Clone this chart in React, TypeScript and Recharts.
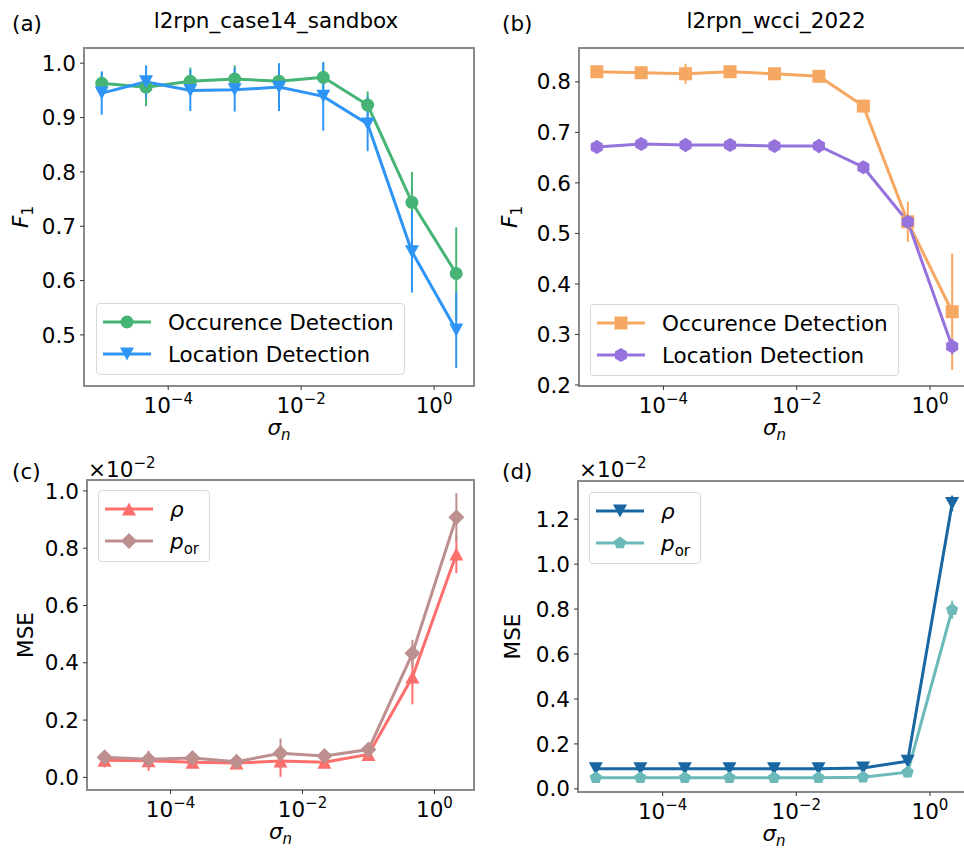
import type { ReactNode } from "react";
import {
	ErrorBar,
	Legend,
	Line,
	LineChart,
	ReferenceArea,
	XAxis,
	YAxis,
} from "recharts";

const FONT = '"DejaVu Sans", sans-serif';
const FS = 21.5;

// noise levels sigma_n (log-spaced) and the x ticks
const sigmaLevels = [1e-5, 4.64e-5, 2.15e-4, 1e-3, 4.64e-3, 2.15e-2, 0.1, 0.464, 2.15];
const sigmaTicks = [1e-4, 1e-2, 1];
const sigmaDomain = [5.41e-6, 3.98];

// (a) l2rpn_case14_sandbox, F1 scores
const case14Occurrence = [0.963, 0.956, 0.967, 0.971, 0.967, 0.974, 0.923, 0.744, 0.613];
const case14OccurrenceErr = [0.02, 0.035, 0.025, 0.025, 0.025, 0.027, 0.025, 0.056, 0.085];
const case14Location = [0.945, 0.966, 0.95, 0.951, 0.956, 0.939, 0.888, 0.653, 0.509];
const case14LocationErr = [0.04, 0.03, 0.038, 0.04, 0.044, 0.063, 0.05, 0.075, 0.07];
const f1TicksCase14 = [0.5, 0.6, 0.7, 0.8, 0.9, 1.0];

// (b) l2rpn_wcci_2022, F1 scores
const wcciOccurrence = [0.82, 0.818, 0.816, 0.82, 0.816, 0.811, 0.752, 0.523, 0.345];
const wcciOccurrenceErr = [0.01, 0.008, 0.02, 0.008, 0.008, 0.01, 0.012, 0.04, 0.115];
const wcciLocation = [0.671, 0.677, 0.675, 0.675, 0.673, 0.673, 0.631, 0.523, 0.276];
const wcciLocationErr = [0.013, 0.008, 0.014, 0.008, 0.008, 0.014, 0.008, 0.012, 0.015];
const f1TicksWcci = [0.2, 0.3, 0.4, 0.5, 0.6, 0.7, 0.8];

// (c) case14 MSE, in units of 1e-2
const case14Rho = [0.06, 0.058, 0.053, 0.05, 0.057, 0.053, 0.08, 0.35, 0.78];
const case14RhoErr = [0.025, 0.035, 0.02, 0.01, 0.055, 0.02, 0.01, 0.095, 0.067];
const case14Por = [0.07, 0.063, 0.068, 0.055, 0.084, 0.075, 0.097, 0.433, 0.908];
const case14PorErr = [0.015, 0.02, 0.01, 0.01, 0.052, 0.01, 0.01, 0.047, 0.084];
const mseTicksCase14 = [0, 0.2, 0.4, 0.6, 0.8, 1.0];

// (d) wcci MSE, in units of 1e-2
const wcciRho = [0.09, 0.09, 0.09, 0.09, 0.09, 0.09, 0.093, 0.123, 1.27];
const wcciRhoErr = [0.005, 0.005, 0.005, 0.005, 0.005, 0.005, 0.006, 0.01, 0.035];
const wcciPor = [0.049, 0.049, 0.049, 0.049, 0.049, 0.049, 0.052, 0.074, 0.797];
const wcciPorErr = [0.004, 0.004, 0.004, 0.004, 0.004, 0.004, 0.004, 0.006, 0.04];
const mseTicksWcci = [0, 0.2, 0.4, 0.6, 0.8, 1.0, 1.2];

type Shape =
	| "circle"
	| "triangleDown"
	| "triangleUp"
	| "square"
	| "hexagon"
	| "diamond"
	| "pentagon";

interface Series {
	key: string;
	label: string;
	color: string;
	shape: Shape;
	values: number[];
	errors: number[];
}

const polygon = (cx: number, cy: number, r: number, n: number) =>
	Array.from({ length: n }, (_, k) => {
		const a = -Math.PI / 2 + (2 * Math.PI * k) / n;
		return `${cx + r * Math.cos(a)},${cy + r * Math.sin(a)}`;
	}).join(" ");

function Marker({ shape, cx, cy, color }: { shape: Shape; cx?: number; cy?: number; color: string }) {
	if (cx == null || cy == null) return null;
	switch (shape) {
		case "circle":
			return <circle cx={cx} cy={cy} r={6.5} fill={color} />;
		case "triangleDown":
			return <polygon points={`${cx - 7},${cy - 6.5} ${cx + 7},${cy - 6.5} ${cx},${cy + 6.5}`} fill={color} />;
		case "triangleUp":
			return <polygon points={`${cx - 7},${cy + 6.5} ${cx + 7},${cy + 6.5} ${cx},${cy - 6.5}`} fill={color} />;
		case "square":
			return <rect x={cx - 6.5} y={cy - 6.5} width={13} height={13} fill={color} />;
		case "hexagon":
			return <polygon points={polygon(cx, cy, 7, 6)} fill={color} />;
		case "diamond":
			return <polygon points={polygon(cx, cy, 8, 4)} fill={color} />;
		case "pentagon":
			return <polygon points={polygon(cx, cy, 6.5, 5)} fill={color} />;
	}
}

const mathLabel = (label: string): ReactNode => {
	if (label === "rho") return <i>ρ</i>;
	if (label === "p_or")
		return (
			<>
				<i>p</i>
				<span style={{ fontSize: 15, position: "relative", top: 5 }}>or</span>
			</>
		);
	return label;
};

// 10^k tick labels for the log axis
const PowerTick = (props: any) => {
	const { x, y, payload } = props;
	const exp = Math.round(Math.log10(payload.value));
	return (
		<text x={x} y={y} dy={15} textAnchor="middle" fontFamily={FONT} fontSize={FS} fill="#000">
			<tspan>10</tspan>
			<tspan dy={-9} fontSize={15}>
				{exp < 0 ? `−${-exp}` : `${exp}`}
			</tspan>
		</text>
	);
};

const SigmaTitle = (props: any) => {
	const { x, y, width } = props.viewBox;
	return (
		<text x={x + width / 2} y={y + 49} textAnchor="middle" fontFamily={FONT} fontSize={FS} fill="#000">
			<tspan fontStyle="italic">σ</tspan>
			<tspan fontStyle="italic" fontSize={15} dy={5}>
				n
			</tspan>
		</text>
	);
};

const YTitle = (props: any) => {
	const { y, height } = props.viewBox;
	const bx = props.baselineX;
	const cy = y + height / 2;
	return (
		<text
			x={bx}
			y={cy}
			transform={`rotate(-90 ${bx} ${cy})`}
			textAnchor="middle"
			fontFamily={FONT}
			fontSize={FS}
			fill="#000"
		>
			{props.kind === "f1" ? (
				<>
					<tspan fontStyle="italic">F</tspan>
					<tspan fontSize={15} dy={5}>
						1
					</tspan>
				</>
			) : (
				"MSE"
			)}
		</text>
	);
};

function LegendBox({ series }: { series: Series[] }) {
	return (
		<div
			style={{
				border: "1px solid #d9d9d9",
				borderRadius: 4,
				background: "rgba(255,255,255,0.8)",
				padding: "2px 10px 4px 6px",
				fontFamily: FONT,
				fontSize: FS,
				color: "#000",
			}}
		>
			{series.map((s) => (
				<div key={s.key} style={{ display: "flex", alignItems: "center", height: 32 }}>
					<svg width={48} height={32}>
						<line x1={0} x2={48} y1={16} y2={16} stroke={s.color} strokeWidth={3} />
						<Marker shape={s.shape} cx={24} cy={16} color={s.color} />
					</svg>
					<span style={{ marginLeft: 17, whiteSpace: "nowrap" }}>{mathLabel(s.label)}</span>
				</div>
			))}
		</div>
	);
}

interface PanelProps {
	left: number;
	top: number;
	width: number;
	height: number;
	plotLeft: number;
	plotTop: number;
	plotRight: number;
	plotBottom: number;
	yDomain: number[];
	yTicks: number[];
	yKind: "f1" | "mse";
	yTitleX: number;
	legendAt: [number, number];
	series: Series[];
}

function Panel(p: PanelProps) {
	const rows = sigmaLevels.map((sigma, i) => {
		const row: Record<string, number> = { sigma };
		for (const s of p.series) {
			row[s.key] = s.values[i];
			row[`${s.key}Err`] = s.errors[i];
		}
		return row;
	});

	return (
		<div style={{ position: "absolute", left: p.left, top: p.top }}>
			<LineChart
				width={p.width}
				height={p.height}
				data={rows}
				margin={{ top: p.plotTop, right: p.width - p.plotRight, bottom: 0, left: 0 }}
			>
				<XAxis
					dataKey="sigma"
					type="number"
					scale="log"
					domain={sigmaDomain}
					allowDataOverflow
					ticks={sigmaTicks}
					interval={0}
					tick={<PowerTick />}
					tickSize={4}
					tickMargin={8}
					tickLine={{ stroke: "#333" }}
					axisLine={false}
					height={p.height - p.plotBottom}
					label={<SigmaTitle />}
				/>
				<YAxis
					type="number"
					domain={p.yDomain}
					allowDataOverflow
					ticks={p.yTicks}
					interval={0}
					tickFormatter={(v: number) => v.toFixed(1)}
					tick={{ fill: "#000", fontSize: FS, fontFamily: FONT }}
					tickSize={4}
					tickMargin={4}
					tickLine={{ stroke: "#333" }}
					axisLine={false}
					width={p.plotLeft}
					label={<YTitle kind={p.yKind} baselineX={p.yTitleX} />}
				/>
				{p.series.map((s) => (
					<Line
						key={s.key}
						dataKey={s.key}
						type="linear"
						stroke={s.color}
						strokeWidth={3}
						isAnimationActive={false}
						activeDot={false}
						dot={(d: any) => (
							<Marker key={`${s.key}-${d.index}`} shape={s.shape} cx={d.cx} cy={d.cy} color={s.color} />
						)}
					>
						<ErrorBar
							dataKey={`${s.key}Err`}
							direction="y"
							width={0}
							stroke={s.color}
							strokeWidth={2}
							isAnimationActive={false}
						/>
					</Line>
				))}
				<ReferenceArea
					x1={sigmaDomain[0]}
					x2={sigmaDomain[1]}
					y1={p.yDomain[0]}
					y2={p.yDomain[1]}
					fill="none"
					stroke="#8a8a8a"
					strokeWidth={2}
					ifOverflow="visible"
				/>
				<Legend
					layout="vertical"
					align="center"
					verticalAlign="middle"
					wrapperStyle={{ left: p.legendAt[0], top: p.legendAt[1], width: "auto", height: "auto" }}
					content={() => <LegendBox series={p.series} />}
				/>
			</LineChart>
		</div>
	);
}

const case14F1: Series[] = [
	{ key: "occ", label: "Occurence Detection", color: "#45b474", shape: "circle", values: case14Occurrence, errors: case14OccurrenceErr },
	{ key: "loc", label: "Location Detection", color: "#2e95f7", shape: "triangleDown", values: case14Location, errors: case14LocationErr },
];
const wcciF1: Series[] = [
	{ key: "occ", label: "Occurence Detection", color: "#f5a862", shape: "square", values: wcciOccurrence, errors: wcciOccurrenceErr },
	{ key: "loc", label: "Location Detection", color: "#9572dc", shape: "hexagon", values: wcciLocation, errors: wcciLocationErr },
];
const case14Mse: Series[] = [
	{ key: "rho", label: "rho", color: "#fd6f6c", shape: "triangleUp", values: case14Rho, errors: case14RhoErr },
	{ key: "por", label: "p_or", color: "#bd8f8f", shape: "diamond", values: case14Por, errors: case14PorErr },
];
const wcciMse: Series[] = [
	{ key: "rho", label: "rho", color: "#1866a2", shape: "triangleDown", values: wcciRho, errors: wcciRhoErr },
	{ key: "por", label: "p_or", color: "#6bb9b9", shape: "pentagon", values: wcciPor, errors: wcciPorErr },
];

const textStyle = { fontFamily: FONT, fontSize: FS, fill: "#000" };

export default function App() {
	return (
		<div
			style={{
				position: "fixed",
				left: 0,
				top: 0,
				width: 964,
				height: 854,
				overflow: "hidden",
				background: "#fff",
			}}
		>
			<Panel
				left={0}
				top={0}
				width={482}
				height={450}
				plotLeft={84}
				plotTop={48}
				plotRight={474}
				plotBottom={386}
				yDomain={[0.406, 1.028]}
				yTicks={f1TicksCase14}
				yKind="f1"
				yTitleX={28}
				legendAt={[96, 303]}
				series={case14F1}
			/>
			<Panel
				left={482}
				top={0}
				width={500}
				height={450}
				plotLeft={97}
				plotTop={48}
				plotRight={488}
				plotBottom={386}
				yDomain={[0.198, 0.867]}
				yTicks={f1TicksWcci}
				yKind="f1"
				yTitleX={35}
				legendAt={[108, 304]}
				series={wcciF1}
			/>
			<Panel
				left={0}
				top={430}
				width={482}
				height={424}
				plotLeft={87}
				plotTop={50}
				plotRight={474}
				plotBottom={360}
				yDomain={[-0.044, 1.038]}
				yTicks={mseTicksCase14}
				yKind="mse"
				yTitleX={33}
				legendAt={[98, 60]}
				series={case14Mse}
			/>
			<Panel
				left={482}
				top={430}
				width={500}
				height={424}
				plotLeft={96}
				plotTop={51}
				plotRight={488}
				plotBottom={362}
				yDomain={[-0.014, 1.37]}
				yTicks={mseTicksWcci}
				yKind="mse"
				yTitleX={38}
				legendAt={[107, 62]}
				series={wcciMse}
			/>
			<svg width={964} height={854} style={{ position: "absolute", left: 0, top: 0, pointerEvents: "none" }}>
				<text x={12} y={31} {...textStyle}>(a)</text>
				<text x={276} y={28} textAnchor="middle" {...textStyle}>l2rpn_case14_sandbox</text>
				<text x={502} y={31} {...textStyle}>(b)</text>
				<text x={776} y={28} textAnchor="middle" {...textStyle}>l2rpn_wcci_2022</text>
				<text x={12} y={479} {...textStyle}>(c)</text>
				<text x={88} y={477} {...textStyle}>
					×10<tspan dy={-9} fontSize={15}>−2</tspan>
				</text>
				<text x={502} y={479} {...textStyle}>(d)</text>
				<text x={579} y={477} {...textStyle}>
					×10<tspan dy={-9} fontSize={15}>−2</tspan>
				</text>
			</svg>
		</div>
	);
}
